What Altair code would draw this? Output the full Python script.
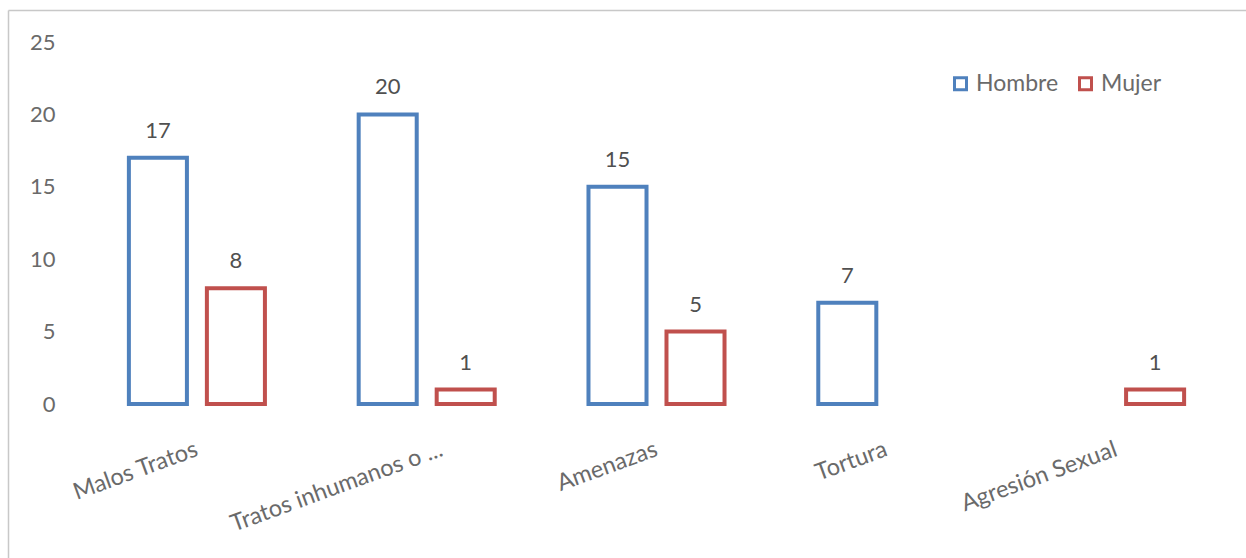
import altair as alt
import pandas as pd

categorias = ["Malos Tratos", "Tratos inhumanos o ...", "Amenazas", "Tortura", "Agresión Sexual"]
hombre = [17, 20, 15, 7, None]
mujer = [8, 1, 5, None, 1]
series = ["Hombre", "Mujer"]
colores = ["#4F81BD", "#C0504D"]
y_ticks = [0, 5, 10, 15, 20, 25]

rows = []
for c, h, m in zip(categorias, hombre, mujer):
    if h is not None:
        rows.append({"Categoria": c, "Sexo": "Hombre", "Valor": h})
    if m is not None:
        rows.append({"Categoria": c, "Sexo": "Mujer", "Valor": m})
df = pd.DataFrame(rows)

FONT = "Lato"
W, H = 1149, 362
LEFT, TOP = 82, 42
AXIS_GRAY = "#6a6a6a"

x_enc = alt.X(
    "Categoria:N",
    sort=categorias,
    title=None,
    scale=alt.Scale(paddingInner=0.408, paddingOuter=0.204),
    axis=alt.Axis(
        labelAngle=-20,
        labelPadding=33,
        labelFontSize=23.5,
        labelFont=FONT,
        labelColor=AXIS_GRAY,
        domain=False,
        ticks=False,
        labelLimit=400,
        labelOffset={"condition": {"test": "datum.value == 'Tratos inhumanos o ...'", "value": 11}, "value": -4},
    ),
)
xoff = alt.XOffset("Sexo:N", sort=series, scale=alt.Scale(paddingInner=0.256, paddingOuter=0))
y_enc = alt.Y(
    "Valor:Q",
    title=None,
    scale=alt.Scale(domain=[0, 25], nice=False),
    axis=alt.Axis(
        values=y_ticks,
        grid=False,
        domain=False,
        ticks=False,
        labelPadding=27,
        labelFontSize=22,
        labelFont=FONT,
        labelColor=AXIS_GRAY,
    ),
)

base = alt.Chart(df)

bars = base.mark_bar(fill="white", strokeWidth=4).encode(
    x=x_enc,
    xOffset=xoff,
    y=y_enc,
    stroke=alt.Stroke(
        "Sexo:N",
        sort=series,
        scale=alt.Scale(domain=series, range=colores),
        legend=alt.Legend(
            title=None,
            orient="none",
            legendX=867,
            legendY=30,
            direction="horizontal",
            symbolType="square",
            symbolSize=144,
            symbolStrokeWidth=3,
            symbolFillColor="white",
            labelFontSize=23,
            labelFont=FONT,
            labelColor=AXIS_GRAY,
            labelOffset=4,
            columnPadding=14,
        ),
    ),
)

labels = base.mark_text(baseline="bottom", dy=-15, fontSize=22, font=FONT, color="#505050").encode(
    x=alt.X("Categoria:N", sort=categorias),
    xOffset=alt.XOffset("Sexo:N", sort=series),
    y=alt.Y("Valor:Q"),
    text=alt.Text("Valor:Q"),
)

frame = alt.Data(values=[{"k": 1}])
top_line = alt.Chart(frame).mark_rule(color="#c8c8c8", strokeWidth=1.5).encode(
    x=alt.value(8.5 - LEFT), x2=alt.value(1246 - LEFT), y=alt.value(10.5 - TOP)
)
left_line = alt.Chart(frame).mark_rule(color="#c8c8c8", strokeWidth=1.5).encode(
    x=alt.value(8.5 - LEFT), y=alt.value(10.5 - TOP), y2=alt.value(558 - TOP)
)

chart = (
    alt.layer(top_line, left_line, bars, labels)
    .properties(
        width=W,
        height=H,
        autosize=alt.AutoSizeParams(type="none"),
        padding={"left": LEFT, "top": TOP, "right": 1246 - LEFT - W, "bottom": 558 - TOP - H},
        background="white",
    )
    .configure_view(stroke=None)
)

chart.save("out.html", embed_options={"renderer": "svg", "actions": False})
